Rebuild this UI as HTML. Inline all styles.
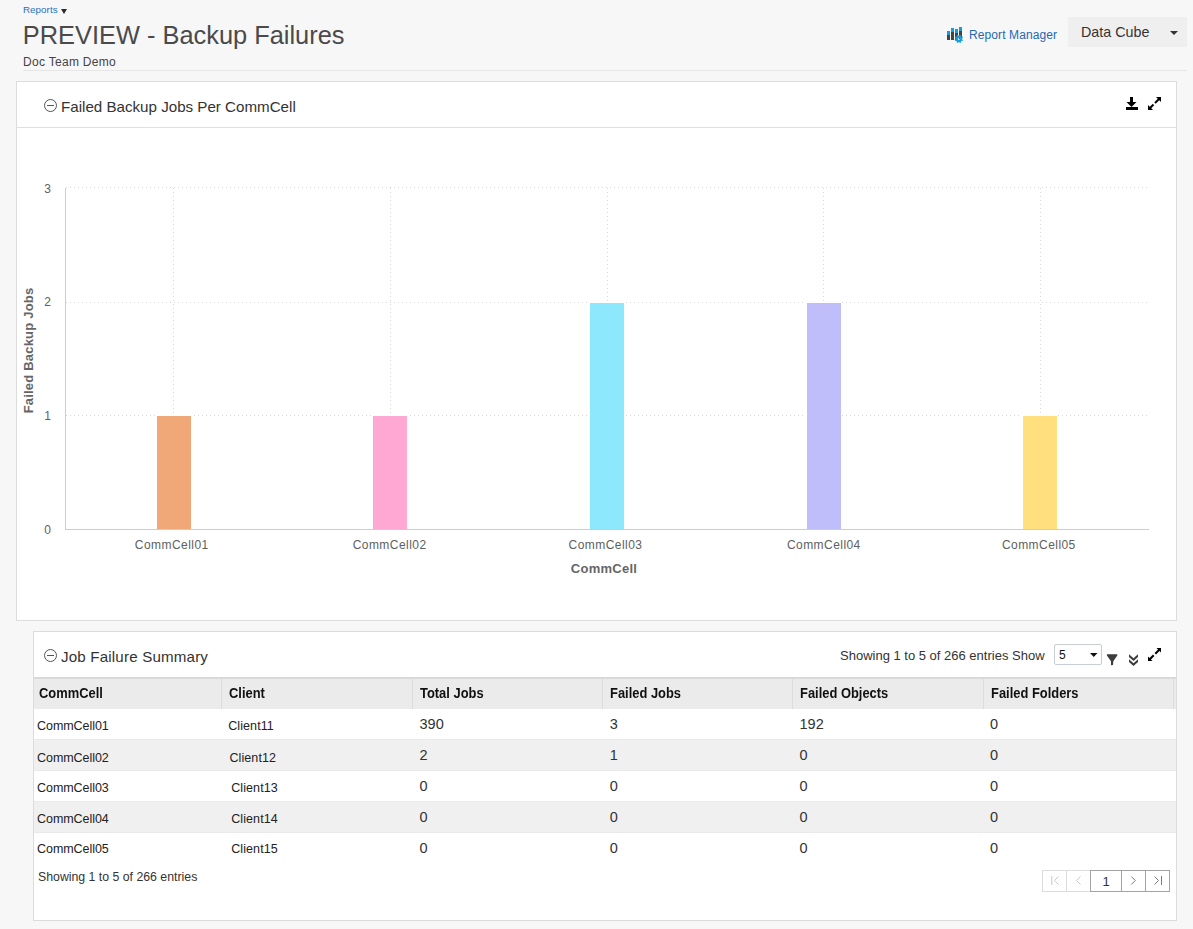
<!DOCTYPE html>
<html>
<head>
<meta charset="utf-8">
<title>PREVIEW - Backup Failures</title>
<style>
html,body{margin:0;padding:0;}
body{width:1193px;height:929px;overflow:hidden;background:#f7f7f7;font-family:"Liberation Sans",Arial,sans-serif;color:#333;position:relative;}
.abs{position:absolute;white-space:nowrap;}
#crumb{left:23px;top:3.5px;font-size:9.8px;letter-spacing:0.05px;color:#2a72bd;line-height:12px;}
#crumb .tri{display:inline-block;width:0;height:0;border-left:3px solid transparent;border-right:3px solid transparent;border-top:5px solid #2a2a2a;margin-left:3px;vertical-align:-1px;}
#title{left:22.8px;top:19px;font-size:25.4px;color:#4a4a4a;line-height:32px;}
#sub{left:23px;top:54.3px;font-size:12px;letter-spacing:0.3px;color:#444;line-height:16px;}
#hsep{left:23px;top:70px;width:1164px;height:1px;background:#e6e6e6;}
#rm{left:969px;top:27px;font-size:12px;color:#2469b4;line-height:16px;letter-spacing:0.1px;}
#rmicon{left:946px;top:26px;}
#dc{left:1068px;top:17px;width:119px;height:30px;background:#efefef;}
#dc span{position:absolute;left:13px;top:7.4px;font-size:14.3px;color:#333;line-height:16px;}
.panel{position:absolute;background:#fff;border:1px solid #dcdcdc;box-sizing:border-box;}
#p1{left:16px;top:81px;width:1161px;height:540px;}
#p1 .hd{position:absolute;left:0;top:0;right:0;height:45px;border-bottom:1px solid #e0e0e0;}
.ptitle{position:absolute;font-size:15.15px;color:#333;line-height:18px;}
#p2{left:33px;top:631px;width:1144px;height:290px;}

.thb{position:absolute;left:0;top:45px;width:1142px;height:30px;border-top:2px solid #d9d9d9;background:#ebebeb;}
.tsep{position:absolute;top:47px;width:1px;height:30px;background:#dcdcdc;}
.th{position:absolute;top:46px;line-height:30px;font-weight:bold;font-size:14.2px;color:#111;white-space:nowrap;transform:scaleX(0.91);transform-origin:0 0;}
.trg{position:absolute;left:0;width:1142px;height:30px;border-top:1px solid #eaeaea;border-bottom:1px solid #eaeaea;background:#f0f0f0;}
.c1,.c3{position:absolute;white-space:nowrap;line-height:14px;}
.c1{font-size:12.5px;color:#222;letter-spacing:0.1px;}
.c1.cc{letter-spacing:-0.05px;}
.c3{font-size:14.5px;color:#333;}
#foot{left:4px;top:238px;font-size:12.3px;color:#333;}

#tinfo{left:806px;top:16px;font-size:13px;color:#333;line-height:16px;}
#sel{left:1020px;top:12px;width:48px;height:21px;box-sizing:border-box;border:1px solid #c9cdd4;border-radius:2px;background:#fff;}
#sel span{position:absolute;left:4px;top:3px;font-size:12px;color:#111;line-height:14px;}
</style>
</head>
<body>
<div class="abs" id="crumb">Reports<span class="tri"></span></div>
<div class="abs" id="title">PREVIEW - Backup Failures</div>
<div class="abs" id="sub">Doc Team Demo</div>
<div class="abs" id="hsep"></div>

<svg class="abs" id="rmicon" width="20" height="20" viewBox="0 0 20 20">
  <rect x="1" y="5" width="3" height="9" fill="#444"/>
  <rect x="1" y="5" width="3" height="4" fill="#1a9ad6"/>
  <rect x="5" y="2" width="3" height="12" fill="#444"/>
  <rect x="5" y="2" width="3" height="4" fill="#1a9ad6"/>
  <rect x="9" y="3" width="3" height="11" fill="#444"/>
  <rect x="9" y="3" width="3" height="4" fill="#1a9ad6"/>
  <rect x="13" y="1" width="3" height="12" fill="#444"/>
  <rect x="13" y="1" width="3" height="4" fill="#1a9ad6"/>
  <defs><mask id="gh"><rect width="20" height="20" fill="#fff"/><circle cx="12.9" cy="12.9" r="0.9" fill="#000"/></mask></defs>
  <g mask="url(#gh)"><g transform="translate(12.9,12.9)" fill="#14a0da"><circle r="3.1"/><rect x="-0.8" y="-4.1" width="1.6" height="2.2" transform="rotate(22.5)"/><rect x="-0.8" y="-4.1" width="1.6" height="2.2" transform="rotate(67.5)"/><rect x="-0.8" y="-4.1" width="1.6" height="2.2" transform="rotate(112.5)"/><rect x="-0.8" y="-4.1" width="1.6" height="2.2" transform="rotate(157.5)"/><rect x="-0.8" y="-4.1" width="1.6" height="2.2" transform="rotate(202.5)"/><rect x="-0.8" y="-4.1" width="1.6" height="2.2" transform="rotate(247.5)"/><rect x="-0.8" y="-4.1" width="1.6" height="2.2" transform="rotate(292.5)"/><rect x="-0.8" y="-4.1" width="1.6" height="2.2" transform="rotate(337.5)"/></g></g>
</svg>
<div class="abs" id="rm">Report Manager</div>
<div class="abs" id="dc"><span>Data Cube</span>
  <svg style="position:absolute;left:102px;top:14px" width="8" height="5"><polygon points="0,0 8,0 4,4" fill="#333"/></svg>
</div>

<div class="panel" id="p1">
  <div class="hd">
    <svg style="position:absolute;left:27px;top:17px" width="14" height="14" viewBox="0 0 14 14"><circle cx="6.5" cy="6.5" r="6" fill="none" stroke="#555" stroke-width="1"/><line x1="3" y1="6.5" x2="10" y2="6.5" stroke="#555" stroke-width="1"/></svg>
    <div class="ptitle" style="left:44px;top:16px">Failed Backup Jobs Per CommCell</div>
    <svg style="position:absolute;left:1108px;top:14px" width="14" height="14" viewBox="0 0 14 14">
      <rect x="5" y="1" width="3" height="6" fill="#000"/>
      <polygon points="1.5,6 11.5,6 6.5,11" fill="#000"/>
      <rect x="1" y="11" width="12" height="3" fill="#000"/>
    </svg>
    <svg style="position:absolute;left:1130px;top:14px" width="14" height="14" viewBox="0 0 14 14">
      <polygon points="9,1 14,1 14,6" fill="#000"/>
      <line x1="12" y1="3" x2="8" y2="7" stroke="#000" stroke-width="2"/>
      <polygon points="1,9 1,14 6,14" fill="#000"/>
      <line x1="3" y1="12" x2="6.5" y2="8.5" stroke="#000" stroke-width="2"/>
    </svg>
  </div>
  <svg style="position:absolute;left:0;top:46px" width="1159" height="491" viewBox="17 128 1159 491" font-family="Liberation Sans, Arial, sans-serif">
    <g stroke="#d8d8d8" stroke-width="1" stroke-dasharray="1,3" fill="none">
      <path d="M66 187.5H1149M66 302.5H1149M66 415.5H1149"/>
      <path d="M173.5 188V529M390.5 188V529M607.5 188V529M823.5 188V529M1040.5 188V529"/>
    </g>
    <g stroke="#fff" stroke-width="1">
      <rect x="156.5" y="415.5" width="35" height="114" fill="#f0a878"/>
      <rect x="372.5" y="415.5" width="35" height="114" fill="#ffa8d4"/>
      <rect x="589.5" y="302.5" width="35" height="227" fill="#8ee8fd"/>
      <rect x="806.5" y="302.5" width="35" height="227" fill="#c0bdfb"/>
      <rect x="1022.5" y="415.5" width="35" height="114" fill="#ffdf7e"/>
    </g>
    <path d="M65.5 188V529.5M65 529.5H1149" stroke="#c0d0e0" stroke-width="1" fill="none"/>
    <g font-size="12" fill="#606060" text-anchor="end">
      <text x="51" y="193">3</text>
      <text x="51" y="306">2</text>
      <text x="51" y="420">1</text>
      <text x="51" y="534">0</text>
    </g>
    <g font-size="12" fill="#606060" letter-spacing="0.45">
      <text x="134.8" y="549">CommCell01</text>
      <text x="352.7" y="549">CommCell02</text>
      <text x="568.6" y="549">CommCell03</text>
      <text x="786.9" y="549">CommCell04</text>
      <text x="1001.9" y="549">CommCell05</text>
    </g>
    <text x="604" y="573" font-size="13" font-weight="bold" fill="#666" text-anchor="middle" letter-spacing="0.25">CommCell</text>
    <text transform="translate(33,350.5) rotate(-90)" font-size="13" font-weight="bold" fill="#666" text-anchor="middle" letter-spacing="0.2">Failed Backup Jobs</text>
  </svg>
</div>

<div class="panel" id="p2">
  <svg style="position:absolute;left:10px;top:17px" width="14" height="14" viewBox="0 0 14 14"><circle cx="6.5" cy="6.5" r="6" fill="none" stroke="#555" stroke-width="1"/><line x1="3" y1="6.5" x2="10" y2="6.5" stroke="#555" stroke-width="1"/></svg>
  <div class="ptitle" style="left:27px;top:16px;letter-spacing:0.17px">Job Failure Summary</div>
  <div class="thb"></div>
  <div class="tsep" style="left:187px"></div>
  <div class="tsep" style="left:378px"></div>
  <div class="tsep" style="left:568px"></div>
  <div class="tsep" style="left:758px"></div>
  <div class="tsep" style="left:949px"></div>
  <div class="tsep" style="left:1139px"></div>
  <div class="th" style="left:4.8px">CommCell</div>
  <div class="th" style="left:195px">Client</div>
  <div class="th" style="left:386px">Total Jobs</div>
  <div class="th" style="left:576px">Failed Jobs</div>
  <div class="th" style="left:766px">Failed Objects</div>
  <div class="th" style="left:957px">Failed Folders</div>
  <div class="trg" style="top:107px"></div>
  <div class="trg" style="top:169px"></div>
  <span class="c1 cc" style="left:3px;top:87px">CommCell01</span>
  <span class="c1" style="left:194.2px;top:87px">Client11</span>
  <span class="c3" style="left:385.5px;top:85px">390</span>
  <span class="c3" style="left:575.8px;top:85px">3</span>
  <span class="c3" style="left:765.5px;top:85px">192</span>
  <span class="c3" style="left:956px;top:85px">0</span>
  <span class="c1 cc" style="left:3px;top:119px">CommCell02</span>
  <span class="c1" style="left:195.4px;top:119px">Client12</span>
  <span class="c3" style="left:385.5px;top:116px">2</span>
  <span class="c3" style="left:575.8px;top:116px">1</span>
  <span class="c3" style="left:765.5px;top:116px">0</span>
  <span class="c3" style="left:956px;top:116px">0</span>
  <span class="c1 cc" style="left:3px;top:149px">CommCell03</span>
  <span class="c1" style="left:197.2px;top:149px">Client13</span>
  <span class="c3" style="left:385.5px;top:147px">0</span>
  <span class="c3" style="left:575.8px;top:147px">0</span>
  <span class="c3" style="left:765.5px;top:147px">0</span>
  <span class="c3" style="left:956px;top:147px">0</span>
  <span class="c1 cc" style="left:3px;top:180px">CommCell04</span>
  <span class="c1" style="left:197.2px;top:180px">Client14</span>
  <span class="c3" style="left:385.5px;top:178px">0</span>
  <span class="c3" style="left:575.8px;top:178px">0</span>
  <span class="c3" style="left:765.5px;top:178px">0</span>
  <span class="c3" style="left:956px;top:178px">0</span>
  <span class="c1 cc" style="left:3px;top:210px">CommCell05</span>
  <span class="c1" style="left:197.2px;top:210px">Client15</span>
  <span class="c3" style="left:385.5px;top:209px">0</span>
  <span class="c3" style="left:575.8px;top:209px">0</span>
  <span class="c3" style="left:765.5px;top:209px">0</span>
  <span class="c3" style="left:956px;top:209px">0</span>
  <div class="abs" id="foot">Showing 1 to 5 of 266 entries</div>
  <div class="abs" id="tinfo">Showing 1 to 5 of 266 entries Show</div>
  <div class="abs" id="sel"><span>5</span><svg style="position:absolute;left:35px;top:8px" width="8" height="5"><polygon points="0,0 7.5,0 3.75,4" fill="#111"/></svg></div>
  <svg class="abs" style="left:1066px;top:14px" width="80" height="24" viewBox="1100 646 80 24">
    <polygon points="1106.9,654.3 1117.3,654.3 1117.3,655.4 1113.3,661.2 1113,665.1 1111,665.3 1111,661.2 1106.9,655.4" fill="#3c3c3c"/>
    <polygon points="1129,654.2 1133.5,658.2 1138,654.2 1138,656.9 1133.5,660.9 1129,656.9" fill="#3c3c3c"/>
    <polygon points="1129,659.2 1133.5,663.2 1138,659.2 1138,661.9 1133.5,665.9 1129,661.9" fill="#3c3c3c"/>
  </svg>
  <svg class="abs" style="left:1114px;top:16px" width="14" height="14" viewBox="0 0 14 14">
    <polygon points="8.5,0 13,0 13,4.5" fill="#000"/>
    <line x1="11.5" y1="1.5" x2="7.3" y2="5.7" stroke="#000" stroke-width="2"/>
    <polygon points="0,8.5 0,13 4.5,13" fill="#000"/>
    <line x1="1.5" y1="11.5" x2="5.7" y2="7.3" stroke="#000" stroke-width="2"/>
  </svg>
  <svg class="abs" style="left:1006px;top:236px" width="134" height="26" viewBox="1040 868 134 26">
    <rect x="1042.5" y="870.5" width="48" height="21" fill="#fff" stroke="#dcdcdc"/>
    <line x1="1066.5" y1="870.5" x2="1066.5" y2="891.5" stroke="#dcdcdc"/>
    <rect x="1090.5" y="870.5" width="79" height="21" fill="#fff" stroke="#a3a3a3"/>
    <line x1="1121.5" y1="870.5" x2="1121.5" y2="891.5" stroke="#a3a3a3"/>
    <line x1="1145.5" y1="870.5" x2="1145.5" y2="891.5" stroke="#a3a3a3"/>
    <g fill="none" stroke="#c8c8c8" stroke-width="1">
      <path d="M1051.8 876V885M1058.5 876.5L1054.5 880.5L1058.5 884.5"/>
      <path d="M1080.5 876.5L1076.5 880.5L1080.5 884.5"/>
    </g>
    <g fill="none" stroke="#7a7a7a" stroke-width="1">
      <path d="M1131.3 876.5L1135.3 880.5L1131.3 884.5"/>
      <path d="M1154.5 876.5L1158.5 880.5L1154.5 884.5M1161.5 876V885"/>
    </g>
    <text x="1102.5" y="885.6" font-family="Liberation Sans, Arial, sans-serif" font-size="13" fill="#333">1</text>
  </svg>
</div>
</body>
</html>
